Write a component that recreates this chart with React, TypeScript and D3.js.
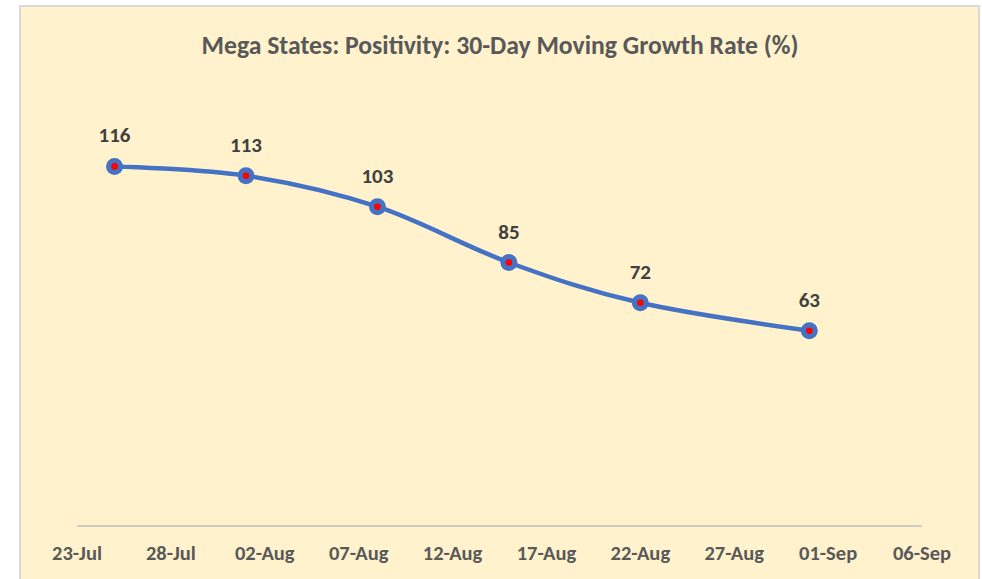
import React from "react";
import * as d3 from "d3";

const dates = ["2020-07-25", "2020-08-01", "2020-08-08", "2020-08-15", "2020-08-22", "2020-08-31"];
const values = [116, 113, 103, 85, 72, 63];
const tickDates = ["2020-07-23", "2020-07-28", "2020-08-02", "2020-08-07", "2020-08-12", "2020-08-17", "2020-08-22", "2020-08-27", "2020-09-01", "2020-09-06"];
const title = "Mega States: Positivity: 30-Day Moving Growth Rate (%)";

const W = 982;
const H = 579;
const FONT = "Carlito, Calibri, 'Liberation Sans', Arial, sans-serif";

export default function App() {
  const parse = d3.utcParse("%Y-%m-%d");
  const fmt = d3.utcFormat("%d-%b");
  const x = d3
    .scaleUtc()
    .domain([parse(tickDates[0])!, parse(tickDates[tickDates.length - 1])!])
    .range([77, 922]);
  const y = d3.scaleLinear().domain([0, 140]).range([526, 92]);
  const pts: [number, number][] = dates.map((d, i) => [x(parse(d)!), y(values[i])]);
  const line = d3.line().curve(d3.curveCardinal.tension(0))(pts) || "";

  return (
    <svg width={W} height={H} style={{ position: "absolute", left: 0, top: 0 }}>
      <rect x={20} y={6} width={959} height={H} fill="#FFF2CC" stroke="#D9D9D9" strokeWidth={2} />
      <text x={500} y={54} textAnchor="middle" fontFamily={FONT} fontWeight="bold" fontSize={25.7} fill="#595959">
        {title}
      </text>
      <line x1={x.range()[0]} x2={x.range()[1]} y1={y(0)} y2={y(0)} stroke="#BFBFBF" strokeWidth={1.5} />
      {tickDates.map((t) => (
        <text key={t} x={x(parse(t)!)} y={560} textAnchor="middle" fontFamily={FONT} fontWeight="bold" fontSize={20.5} fill="#595959">
          {fmt(parse(t)!)}
        </text>
      ))}
      <path d={line} fill="none" stroke="#4472C4" strokeWidth={4.5} />
      {pts.map((p, i) => (
        <g key={i}>
          <circle cx={p[0]} cy={p[1]} r={8.5} fill="#4472C4" />
          <circle cx={p[0]} cy={p[1]} r={3.3} fill="#FF0000" />
          <text x={p[0]} y={p[1] - 24} textAnchor="middle" fontFamily={FONT} fontWeight="bold" fontSize={21} fill="#404040">
            {values[i]}
          </text>
        </g>
      ))}
    </svg>
  );
}
